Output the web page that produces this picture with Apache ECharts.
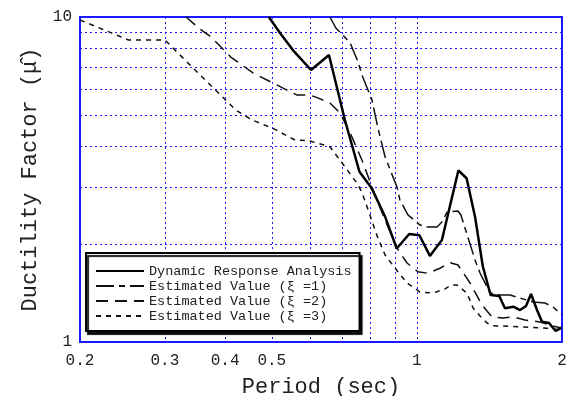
<!DOCTYPE html>
<html>
<head>
<meta charset="utf-8">
<script src="https://cdn.jsdelivr.net/npm/echarts@6/dist/echarts.min.js"></script>
<style>
  html, body { margin: 0; padding: 0; background: #fff; }
  #main { width: 566px; height: 396px; }
</style>
</head>
<body>
<div id="main"></div>
<script>
// period (sec) / ductility factor
const periodDRA = [0.493, 0.520, 0.553, 0.603, 0.657, 0.709, 0.760, 0.806, 0.859, 0.908, 0.964, 1.012, 1.064, 1.127, 1.219, 1.268, 1.320, 1.370, 1.422, 1.482, 1.523, 1.585, 1.637, 1.684, 1.725, 1.775, 1.818, 1.880, 1.940, 1.980, 2.000];
const ductDRA   = [10.0, 8.93, 7.91, 6.87, 7.64, 4.82, 3.34, 2.97, 2.43, 1.94, 2.15, 2.13, 1.84, 2.06, 3.37, 3.19, 2.43, 1.71, 1.395, 1.385, 1.27, 1.284, 1.254, 1.29, 1.405, 1.254, 1.155, 1.144, 1.081, 1.099, 1.11];

const periodXi1 = [0.660, 0.679, 0.702, 0.727, 0.755, 0.769, 0.807, 0.830, 0.859, 0.909, 0.922, 0.958, 1.015, 1.049, 1.101, 1.127, 1.155, 1.217, 1.234, 1.320, 1.352, 1.418, 1.487, 1.560, 1.742, 1.844, 1.916, 2.000];
const ductXi1   = [10.0, 9.25, 8.80, 8.32, 7.27, 6.63, 5.55, 4.56, 3.71, 3.00, 2.735, 2.46, 2.29, 2.26, 2.26, 2.34, 2.51, 2.53, 2.46, 1.788, 1.63, 1.415, 1.395, 1.395, 1.328, 1.318, 1.281, 1.211];

const periodXi2 = [0.332, 0.355, 0.374, 0.411, 0.457, 0.503, 0.564, 0.600, 0.617, 0.660, 0.692, 0.727, 0.769, 0.811, 0.859, 0.909, 0.954, 1.005, 1.054, 1.116, 1.171, 1.217, 1.289, 1.365, 1.431, 1.509, 1.582, 1.676, 1.800, 1.952, 2.000];
const ductXi2   = [10.0, 9.17, 8.68, 7.53, 6.73, 6.26, 5.75, 5.75, 5.67, 5.44, 5.07, 4.40, 3.63, 2.94, 2.37, 1.946, 1.75, 1.645, 1.627, 1.686, 1.754, 1.726, 1.519, 1.30, 1.194, 1.185, 1.194, 1.169, 1.152, 1.112, 1.104];

const periodXi3 = [0.200, 0.252, 0.300, 0.355, 0.421, 0.455, 0.503, 0.559, 0.594, 0.660, 0.709, 0.751, 0.769, 0.792, 0.830, 0.859, 0.914, 0.954, 1.015, 1.080, 1.144, 1.177, 1.211, 1.270, 1.308, 1.352, 1.398, 1.438, 1.620, 1.862, 2.000];
const ductXi3   = [9.79, 8.50, 8.50, 6.63, 5.17, 4.82, 4.54, 4.18, 4.17, 3.99, 3.46, 3.08, 2.89, 2.55, 2.09, 1.852, 1.642, 1.519, 1.425, 1.415, 1.456, 1.497, 1.497, 1.415, 1.272, 1.202, 1.144, 1.122, 1.115, 1.102, 1.089];

const seriesNames = [
  'Dynamic Response Analysis',
  'Estimated Value (ξ =1)',
  'Estimated Value (ξ =2)',
  'Estimated Value (ξ =3)'
];

// axis labels and dotted grid positions
const xTickLabels = [0.2, 0.3, 0.4, 0.5, 1, 2];
const xGridValues = [0.3, 0.4, 0.5, 0.6, 0.7, 0.8, 0.9, 1];
const yTickLabels = [1, 10];
const yGridValues = [2, 3, 4, 5, 6, 7, 8, 9];

const FONT = 'Liberation Mono';
const BLUE = '#1a1aff';

function pairs(xs, ys) {
  return xs.map(function (x, i) { return [x, ys[i]]; });
}

function fmt(v) {
  return String(parseFloat(Number(v).toPrecision(6)));
}

const chart = echarts.init(document.getElementById('main'), null, { renderer: 'canvas' });

const option = {
  backgroundColor: '#fff',
  animation: false,
  grid: {
    left: 80, right: 4, top: 17, bottom: 54,
    outerBoundsMode: 'none',
    containLabel: false,
    show: true,
    borderColor: BLUE,
    borderWidth: 2
  },
  legend: {
    orient: 'vertical',
    left: 86,
    top: 253,
    padding: [11, 8, 8, 9],
    itemGap: 1,
    itemWidth: 48,
    itemHeight: 14,
    itemStyle: { opacity: 0 },
    backgroundColor: '#fff',
    borderColor: '#000',
    borderWidth: 2,
    shadowColor: 'rgba(0,0,0,0.9)',
    shadowBlur: 1,
    shadowOffsetX: 2,
    shadowOffsetY: 3,
    textStyle: { fontFamily: FONT, fontSize: 13.5, color: '#222' },
    data: seriesNames
  },
  xAxis: {
    type: 'log',
    logBase: 10,
    min: 0.2,
    max: 2,
    name: 'Period (sec)',
    nameLocation: 'middle',
    nameGap: 34,
    nameTextStyle: { fontFamily: FONT, fontSize: 22, color: '#222' },
    axisLine: { show: true, lineStyle: { color: BLUE, width: 2 } },
    axisTick: { show: false, customValues: xGridValues },
    axisLabel: {
      customValues: xTickLabels,
      formatter: fmt,
      fontFamily: FONT, fontSize: 16, color: '#222', margin: 11
    },
    splitLine: { show: true, lineStyle: { color: BLUE, width: 1, type: [2, 3] } }
  },
  yAxis: {
    type: 'log',
    logBase: 10,
    min: 1,
    max: 10,
    name: 'Ductility Factor (μ\u0302)',
    nameLocation: 'middle',
    nameGap: 39,
    nameTextStyle: { fontFamily: FONT, fontSize: 22, color: '#222' },
    axisLine: { show: true, lineStyle: { color: BLUE, width: 2 } },
    axisTick: { show: false, customValues: yGridValues },
    axisLabel: {
      customValues: yTickLabels,
      formatter: fmt,
      fontFamily: FONT, fontSize: 16, color: '#222', margin: 8
    },
    splitLine: { show: true, lineStyle: { color: BLUE, width: 1, type: [2, 3] } }
  },
  series: [
    {
      name: seriesNames[0], type: 'line', symbol: 'none',
      lineStyle: { color: '#000', width: 2.5, type: 'solid' },
      itemStyle: { color: '#000' },
      data: pairs(periodDRA, ductDRA)
    },
    {
      name: seriesNames[1], type: 'line', symbol: 'none',
      lineStyle: { color: '#111', width: 1.5, type: [18, 5, 6, 5] },
      itemStyle: { color: '#111' },
      data: pairs(periodXi1, ductXi1)
    },
    {
      name: seriesNames[2], type: 'line', symbol: 'none',
      lineStyle: { color: '#111', width: 1.5, type: [12, 7] },
      itemStyle: { color: '#111' },
      data: pairs(periodXi2, ductXi2)
    },
    {
      name: seriesNames[3], type: 'line', symbol: 'none',
      lineStyle: { color: '#111', width: 1.5, type: [5, 5] },
      itemStyle: { color: '#111' },
      data: pairs(periodXi3, ductXi3)
    }
  ]
};

chart.setOption(option);
</script>
</body>
</html>
